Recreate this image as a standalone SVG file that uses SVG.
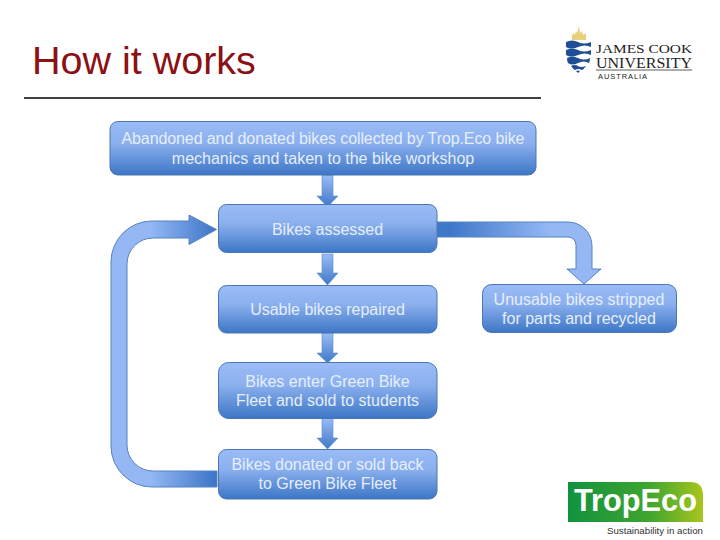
<svg xmlns="http://www.w3.org/2000/svg" width="720" height="540" viewBox="0 0 720 540">
<style>
text{font-family:"Liberation Sans",Arial,sans-serif}
.box{fill:url(#bx);stroke:#4a76b4;stroke-width:1}
.lbl{fill:#e6eefc;font-size:16px;text-anchor:middle}
.arr{fill:url(#dn);stroke:#5d8ccb;stroke-width:.6}
.big{stroke:#5583c2;stroke-width:1}
.wave{fill:#1f4e96}
.serif{font-family:"Liberation Serif",serif;fill:#222}
</style>
<defs>
<linearGradient id="bx" x1="0" y1="0" x2="0" y2="1"><stop offset="0" stop-color="#9abcf8"/><stop offset=".4" stop-color="#8bb0ee"/><stop offset="1" stop-color="#3d76c6"/></linearGradient>
<linearGradient id="dn" x1="0" y1="0" x2="0" y2="1"><stop offset="0" stop-color="#9abcf6"/><stop offset="1" stop-color="#3f78c8"/></linearGradient>
<linearGradient id="lb" gradientUnits="userSpaceOnUse" x1="214" y1="0" x2="150" y2="0"><stop offset="0" stop-color="#3f78c8"/><stop offset="1" stop-color="#95b8f5"/></linearGradient>
<linearGradient id="rb" gradientUnits="userSpaceOnUse" x1="450" y1="0" x2="550" y2="0"><stop offset="0" stop-color="#3f78c8"/><stop offset="1" stop-color="#95b8f5"/></linearGradient>
<linearGradient id="gr" x1="0" y1="0" x2="1" y2="0"><stop offset="0" stop-color="#12923f"/><stop offset=".6" stop-color="#3ea52f"/><stop offset="1" stop-color="#a8c51e"/></linearGradient>
</defs>
<rect width="720" height="540" fill="#fff"/>
<text x="32" y="74" font-size="39.500" fill="#8c1014">How it works</text>
<line x1="24" y1="98" x2="541" y2="98" stroke="#000" stroke-width="1.500"/>

<g id="connectors">
<path class="arr" d="M322 175H333V196H338L327.500 207L317 196H322Z"/>
<path class="arr" d="M322 254H333V273H338L327.500 285L317 273H322Z"/>
<path class="arr" d="M322 333H333V353H338L327.500 363L317 353H322Z"/>
<path class="arr" d="M322 418H333V438H338L327.500 449L317 438H322Z"/>
<path class="big" fill="url(#lb)" d="M217 471H153A26 26 0 0 1 127 445V264A26 26 0 0 1 153 238H189V244.500L216.500 229.500L189 215V221H152A41 41 0 0 0 111 262V446A41 41 0 0 0 152 487H217Z"/>
<path class="big" fill="url(#rb)" d="M437 222H568A24 24 0 0 1 592 246V269H601L584 284L567 269H576V245A8 8 0 0 0 568 237H437Z"/>
</g>

<g id="n1"><rect class="box" x="110" y="121.500" width="426" height="53.500" rx="8"/>
<text class="lbl" x="323" y="144" textLength="403">Abandoned and donated bikes collected by Trop.Eco bike</text>
<text class="lbl" x="323" y="164">mechanics and taken to the bike workshop</text></g>
<g id="n2"><rect class="box" x="218.500" y="204.500" width="218.500" height="48" rx="8"/>
<text class="lbl" x="327.500" y="235">Bikes assessed</text></g>
<g id="n3"><rect class="box" x="218.500" y="285.500" width="218.500" height="47.500" rx="8"/>
<text class="lbl" x="327.500" y="315">Usable bikes repaired</text></g>
<g id="n4"><rect class="box" x="218.500" y="362.500" width="218.500" height="56" rx="10"/>
<text class="lbl" x="327.500" y="387">Bikes enter Green Bike</text>
<text class="lbl" x="327.500" y="406">Fleet and sold to students</text></g>
<g id="n5"><rect class="box" x="218.500" y="449.500" width="218.500" height="49.500" rx="8"/>
<text class="lbl" x="327.500" y="470">Bikes donated or sold back</text>
<text class="lbl" x="327.500" y="489">to Green Bike Fleet</text></g>
<g id="n6"><rect class="box" x="482.500" y="284.500" width="194" height="48" rx="9"/>
<text class="lbl" x="579" y="305">Unusable bikes stripped</text>
<text class="lbl" x="579" y="324">for parts and recycled</text></g>

<g id="jcu-logo">
<path d="M572 40Q571 35 574 33L575 35L576 31L577 33L579 26L580 33L582 31L583 35L585 33Q587 36 586 40Z" fill="#e9cf7c"/>
<path class="wave" d="M566 42Q572 39 578 42T591 42V47Q585 44 578 47T566 47Z"/>
<path class="wave" d="M566 50Q572 47 578 50T591 50V55Q585 52 578 55T566 55Z"/>
<path class="wave" d="M567 58Q572 55 578 58T590 58Q590 61 589 63Q584 60 578 63T568 63Q567 61 567 58Z"/>
<path class="wave" d="M571 66Q575 64 578 66T586 66Q584 69 582 70Q578 68 575 70Q573 69 571 66Z"/>
<path class="wave" d="M576 71Q578 70 580 71L578 73Z"/>
<text class="serif" x="596" y="52.500" font-size="13" textLength="96" lengthAdjust="spacingAndGlyphs">JAMES COOK</text>
<text class="serif" x="596" y="67.500" font-size="14" textLength="96" lengthAdjust="spacingAndGlyphs">UNIVERSITY</text>
<line x1="596" y1="70" x2="692" y2="70" stroke="#333" stroke-width=".8"/>
<text x="598" y="79" font-size="7.500" fill="#222" textLength="49">AUSTRALIA</text>
</g>
<g id="tropeco-logo">
<path d="M568 482H690Q703 482 703 495V522H568Z" fill="url(#gr)"/>
<text x="574" y="511" font-size="32" font-weight="700" fill="#fff" textLength="123" lengthAdjust="spacingAndGlyphs">TropEco</text>
<text x="607" y="534" font-size="9.500" fill="#333" textLength="96" lengthAdjust="spacingAndGlyphs">Sustainability in action</text>
</g>
</svg>
